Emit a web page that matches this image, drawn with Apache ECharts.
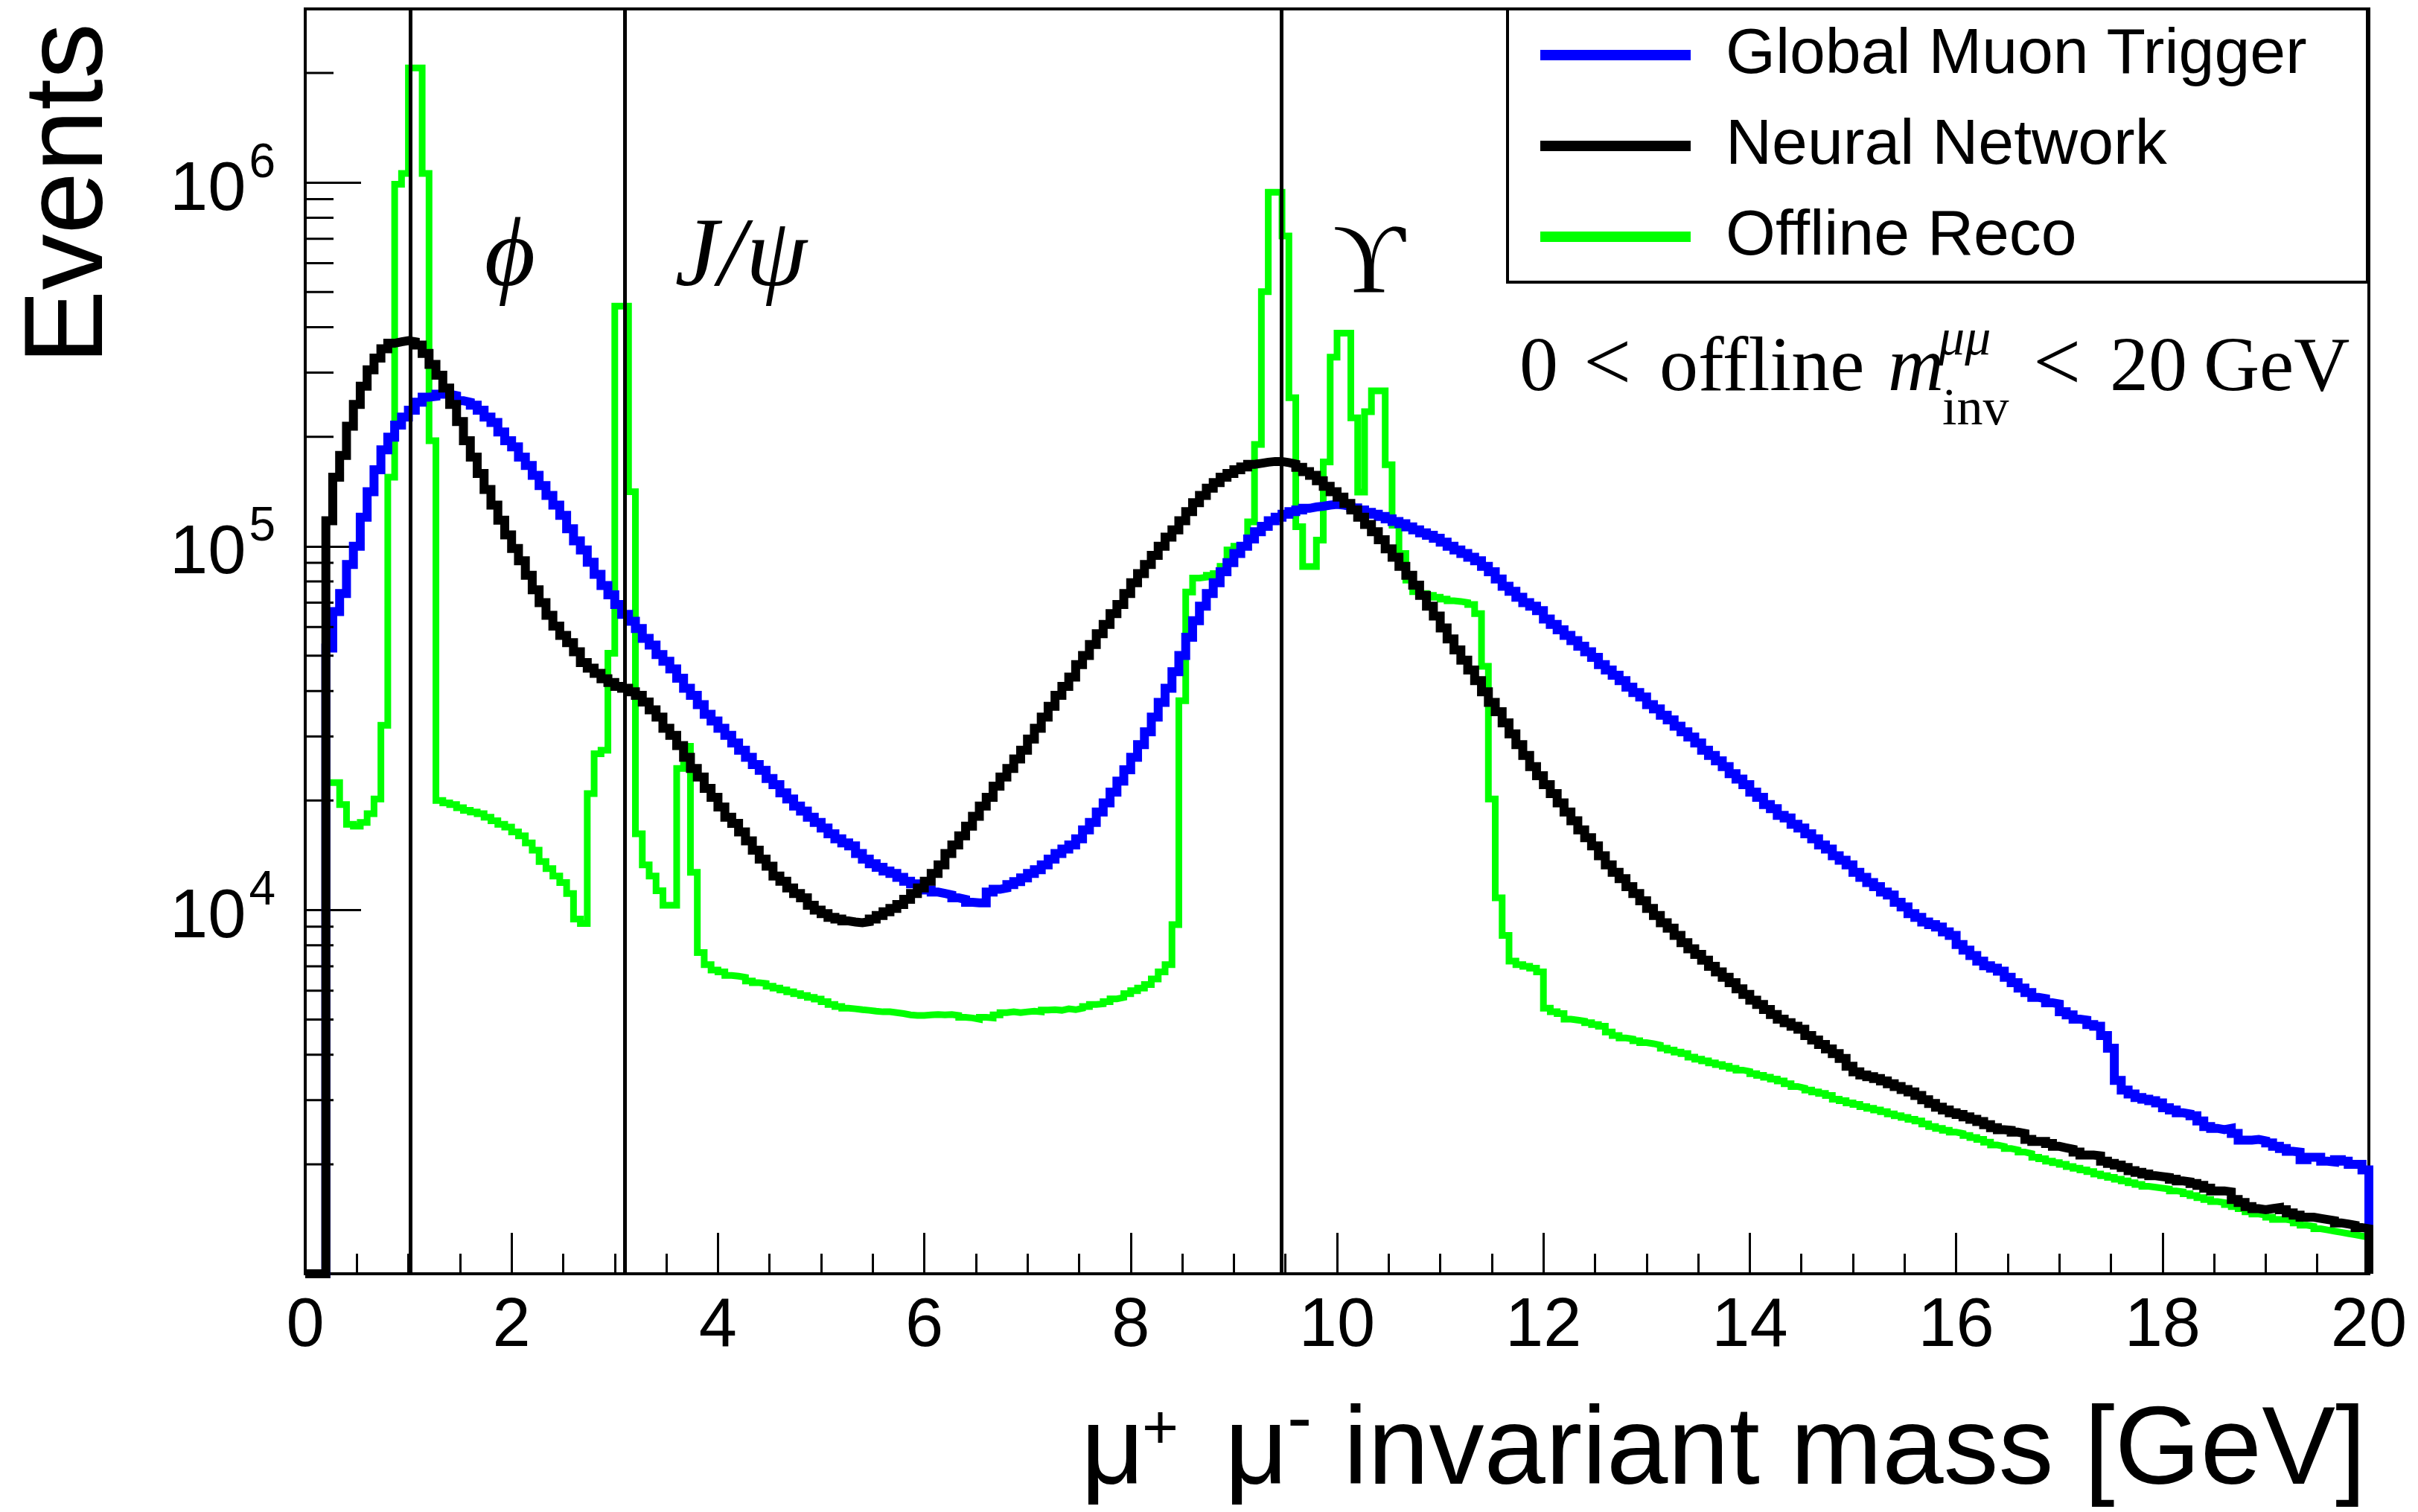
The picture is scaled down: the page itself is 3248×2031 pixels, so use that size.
<!DOCTYPE html>
<html>
<head>
<meta charset="utf-8">
<title>Dimuon invariant mass</title>
<script src="https://cdn.jsdelivr.net/npm/echarts@6/dist/echarts.min.js"></script>
<style>
  html, body { margin: 0; padding: 0; background: #fff; }
  #chart { width: 3248px; height: 2031px; }
</style>
</head>
<body>
<div id="chart"></div>
<script>
// histogram range, 300 bins of 1/15 GeV
const massMin = 0;
const massMax = 20;

const seriesNames = ['Global Muon Trigger', 'Neural Network', 'Offline Reco'];

// events per bin (one row = 1 GeV = 15 bins)
const gmtCounts = [
  0, 0, 0, 52500, 66100, 74100, 89100, 100000, 120200, 141300, 162200, 184100, 199500, 215300, 226500,
  236600, 248900, 257000, 258200, 261800, 261800, 259400, 251200, 248900, 244300, 236600, 226500, 218800, 206100, 195000,
  187500, 175800, 166700, 156700, 146900, 138000, 129700, 121600, 111700, 103500, 97700, 90400, 83750, 78000, 73500,
  69200, 65000, 62200, 59400, 55800, 53500, 50400, 48300, 46000, 43400, 40700, 38900, 36700, 34500, 33100,
  31600, 30200, 28800, 27500, 26300, 25100, 24200, 23000, 22100, 21000, 20200, 19300, 18700, 18000, 17400,
  16800, 16200, 15700, 15300, 15000, 14300, 13800, 13400, 13100, 12800, 12600, 12300, 12000, 11800, 11600,
  11350, 11200, 11100, 11000, 10800, 10700, 10500, 10470, 10470, 11200, 11400, 11500, 11750, 11970, 12250,
  12600, 12900, 13300, 13800, 14300, 14700, 15100, 15700, 16600, 17400, 18600, 19700, 21100, 22600, 24300,
  26300, 28500, 30900, 33900, 37200, 40700, 45200, 50100, 56200, 62400, 68400, 74100, 79400, 85100, 90200,
  95500, 100000, 104700, 109600, 113500, 117500, 120200, 122500, 124500, 125900, 127100, 128200, 128800, 129700, 130300,
  129700, 128800, 127400, 125900, 123900, 122500, 120800, 118900, 116900, 115300, 113000, 110900, 108900, 107200, 105200,
  102600, 100000, 97700, 95500, 93300, 91200, 88100, 85100, 81300, 77600, 75200, 72400, 70000, 68400, 66500,
  63100, 61000, 58900, 56900, 55000, 53100, 51300, 49500, 47300, 45700, 44200, 42700, 41000, 39600, 38500,
  36700, 35700, 34300, 33300, 32000, 30900, 29900, 28800, 27500, 26600, 25700, 24800, 23700, 22900, 22100,
  21100, 20400, 19500, 19000, 18200, 17900, 17200, 16800, 16200, 15700, 15100, 14700, 14100, 13700, 13300,
  12700, 12300, 11900, 11600, 11200, 11000, 10500, 10200, 9770, 9550, 9270, 9120, 8980, 8710, 8510,
  8040, 7760, 7500, 7240, 7030, 6920, 6790, 6530, 6310, 6100, 5930, 5750, 5710, 5560, 5520,
  5250, 5150, 5010, 4980, 4840, 4790, 4520, 4170, 3400, 3200, 3120, 3050, 3020, 2990, 2950,
  2860, 2820, 2770, 2750, 2720, 2630, 2540, 2510, 2490, 2510, 2430, 2330, 2330, 2340, 2320,
  2290, 2240, 2210, 2170, 2160, 2060, 2090, 2090, 2040, 2030, 2060, 2040, 2000, 2000, 1930
];

const nnCounts = [
  0, 0, 0, 117500, 154900, 177800, 213800, 245500, 275400, 305500, 328900, 349100, 361400, 364800, 367300,
  364800, 357300, 338800, 316200, 295100, 272300, 245500, 220300, 195000, 175800, 158500, 143200, 129700, 118000, 107400,
  98600, 91200, 83200, 75900, 70000, 64600, 60300, 56900, 54300, 51300, 47900, 46200, 44700, 43200, 42200,
  41200, 40700, 39800, 38900, 37300, 35500, 33900, 31600, 30200, 28300, 26300, 24500, 23200, 21600, 20400,
  19200, 18000, 17300, 16400, 15500, 14600, 13800, 13200, 12400, 12000, 11500, 11100, 10800, 10300, 10000,
  9770, 9550, 9440, 9330, 9270, 9230, 9290, 9440, 9660, 9890, 10100, 10350, 10700, 11100, 11500,
  12000, 12600, 13300, 14300, 15100, 16000, 17000, 18100, 19300, 20400, 21900, 23200, 24500, 26000, 27500,
  29500, 31600, 33900, 36300, 38900, 41200, 43700, 47300, 50100, 53700, 57500, 61000, 65300, 69200, 74100,
  79400, 84100, 89100, 94400, 100000, 105900, 110900, 117500, 124500, 131800, 138000, 144500, 149600, 154900, 158500,
  162200, 165200, 167900, 169000, 170200, 171000, 171000, 169800, 168300, 164800, 160300, 156700, 151400, 146200, 141300,
  136500, 131200, 125900, 120200, 114800, 109600, 104200, 98400, 93300, 88100, 83200, 78200, 73300, 68400, 64300,
  59600, 55600, 51900, 48600, 45700, 42700, 39800, 37200, 35100, 32700, 30500, 28500, 26600, 24800, 23400,
  22100, 20900, 19700, 18600, 17600, 16600, 15800, 15000, 14100, 13300, 12700, 12200, 11600, 11100, 10600,
  10100, 9660, 9230, 8910, 8510, 8130, 7820, 7550, 7280, 7000, 6760, 6530, 6310, 6070, 5860,
  5650, 5500, 5330, 5160, 5010, 4900, 4790, 4700, 4520, 4390, 4270, 4150, 4030, 3910, 3720,
  3590, 3520, 3480, 3440, 3390, 3330, 3270, 3210, 3160, 3090, 3010, 2940, 2870, 2820, 2770,
  2740, 2700, 2660, 2620, 2570, 2520, 2490, 2480, 2450, 2430, 2340, 2310, 2310, 2280, 2240,
  2220, 2200, 2160, 2120, 2120, 2110, 2040, 2010, 1990, 1960, 1920, 1900, 1880, 1860, 1850,
  1840, 1820, 1800, 1790, 1770, 1750, 1720, 1690, 1690, 1680, 1600, 1570, 1530, 1510, 1500,
  1510, 1520, 1500, 1470, 1450, 1430, 1430, 1420, 1410, 1400, 1380, 1370, 1360, 1340, 1330
];

const offlineCounts = [
  0, 0, 0, 22400, 22400, 19500, 17200, 17000, 17400, 18400, 20200, 32200, 154900, 988600, 1059000,
  2065000, 2065000, 1059000, 195000, 20000, 19700, 19500, 19100, 18800, 18600, 18400, 18000, 17600, 17200, 16900,
  16400, 16000, 15300, 14600, 13600, 13000, 12400, 11900, 11100, 9440, 9180, 20900, 26900, 27500, 50800,
  457100, 457100, 141300, 16200, 13300, 12400, 11300, 10300, 10300, 24500, 28200, 12700, 7640, 7080, 6840,
  6760, 6610, 6580, 6530, 6380, 6310, 6280, 6170, 6100, 6030, 5960, 5890, 5820, 5750, 5690,
  5600, 5500, 5430, 5370, 5350, 5320, 5300, 5270, 5250, 5250, 5220, 5190, 5150, 5130, 5130,
  5150, 5160, 5150, 5160, 5130, 5070, 5050, 5010, 5070, 5050, 5150, 5220, 5250, 5220, 5250,
  5270, 5250, 5310, 5320, 5300, 5350, 5320, 5370, 5430, 5500, 5520, 5600, 5700, 5750, 5890,
  6000, 6100, 6240, 6460, 6760, 7080, 9120, 37600, 74800, 81800, 82200, 83200, 84100, 88100, 97700,
  100000, 100000, 116700, 190500, 501200, 939700, 939700, 712800, 255900, 113200, 87900, 87900, 104000, 170600, 331100,
  385500, 385500, 225400, 140900, 234400, 267300, 267300, 167500, 114300, 95500, 80700, 75000, 74100, 73300, 72400,
  71600, 70800, 70500, 70000, 69200, 65300, 46800, 20200, 10800, 8510, 7240, 7080, 7000, 6920, 6760,
  5370, 5250, 5190, 5010, 4980, 4950, 4900, 4840, 4790, 4620, 4520, 4450, 4420, 4370, 4320,
  4290, 4250, 4170, 4120, 4070, 4030, 3940, 3890, 3850, 3800, 3760, 3720, 3670, 3630, 3600,
  3550, 3510, 3470, 3430, 3390, 3330, 3270, 3240, 3200, 3160, 3130, 3090, 3020, 2990, 2950,
  2920, 2880, 2850, 2820, 2790, 2750, 2720, 2690, 2660, 2630, 2580, 2540, 2510, 2480, 2450,
  2430, 2400, 2370, 2340, 2300, 2260, 2240, 2210, 2190, 2160, 2140, 2090, 2070, 2040, 2020,
  2000, 1970, 1950, 1930, 1910, 1880, 1860, 1840, 1820, 1800, 1780, 1760, 1740, 1730, 1720,
  1710, 1690, 1680, 1660, 1640, 1620, 1600, 1580, 1570, 1550, 1530, 1510, 1480, 1460, 1450,
  1430, 1410, 1410, 1400, 1380, 1360, 1350, 1330, 1320, 1310, 1300, 1290, 1280, 1270, 1260
];

// resonance masses marked with vertical lines [GeV]
const resonances = [
  { label: 'ϕ', mass: 1.019 },
  { label: 'J/ψ', mass: 3.097 },
  { label: 'ϒ', mass: 9.46 }
];

// decades that get a label on the y axis
const yLabelExponents = [4, 5, 6];

// minor ticks of the log axis
const yMinorTicks = [
  2000, 3000, 4000, 5000, 6000, 7000, 8000, 9000,
  20000, 30000, 40000, 50000, 60000, 70000, 80000, 90000,
  200000, 300000, 400000, 500000, 600000, 700000, 800000, 900000,
  2000000
];

const yMin = 1000;
const yMax = 3000000;

// empty bins sit on the lower frame edge, like ROOT draws them
function histPoints(counts) {
  const w = (massMax - massMin) / counts.length;
  const pts = [[massMin, yMin]];
  counts.forEach((c, i) => {
    pts.push([massMin + i * w, c > 0 ? c : yMin]);
  });
  const last = counts[counts.length - 1];
  pts.push([massMax, last > 0 ? last : yMin]);
  pts.push([massMax, yMin]);
  return pts;
}

function histSeries(name, counts, color, width, z) {
  return {
    name: name,
    type: 'line',
    step: 'end',
    data: histPoints(counts),
    showSymbol: false,
    symbol: 'none',
    color: color,
    z: z,
    silent: true,
    animation: false,
    lineStyle: { color: color, width: width, join: 'miter', cap: 'butt' },
    emphasis: { disabled: true }
  };
}

function text(x, y, str, size, extra) {
  return Object.assign({
    type: 'text',
    x: x,
    y: y,
    z: 10,
    silent: true,
    style: Object.assign({
      text: str,
      fontSize: size,
      fontFamily: 'Liberation Sans',
      fill: '#000',
      align: 'left',
      verticalAlign: 'middle'
    }, extra && extra.style)
  }, extra && extra.el);
}

function yLabel(v) {
  const e = Math.log10(v);
  const r = Math.round(e);
  if (Math.abs(e - r) > 1e-6 || yLabelExponents.indexOf(r) < 0) return '';
  return '{b|10}{s|' + r + '}';
}

const serif = 'Liberation Serif, DejaVu Serif';
const tickLine = { color: '#000', width: 3 };

const nnSeries = histSeries(seriesNames[1], nnCounts, '#000000', 12, 4);
nnSeries.markLine = {
  silent: true,
  animation: false,
  symbol: ['none', 'none'],
  label: { show: false },
  lineStyle: { color: '#000', width: 5, type: 'solid' },
  data: resonances.map(r => ({ xAxis: r.mass }))
};

const chart = echarts.init(document.getElementById('chart'));

const option = {
  animation: false,
  backgroundColor: '#ffffff',
  grid: {
    left: 410, right: 66, top: 12, bottom: 320,
    show: true, borderColor: '#000', borderWidth: 4
  },
  xAxis: {
    type: 'value',
    min: massMin,
    max: massMax,
    interval: 2,
    axisLine: { onZero: false, lineStyle: { color: '#000', width: 4 } },
    axisTick: { inside: true, length: 55, lineStyle: tickLine },
    minorTick: { show: true, splitNumber: 4, length: 27, lineStyle: tickLine },
    splitLine: { show: false },
    axisLabel: { margin: 26, color: '#000', fontSize: 92, fontFamily: 'Liberation Sans' }
  },
  yAxis: {
    type: 'log',
    logBase: 10,
    min: yMin,
    max: yMax,
    axisLine: { onZero: false, lineStyle: { color: '#000', width: 4 } },
    axisTick: { inside: true, length: 75, lineStyle: tickLine },
    splitLine: { show: false },
    axisLabel: {
      margin: 40,
      showMinLabel: false,
      showMaxLabel: false,
      formatter: yLabel,
      rich: {
        b: { fontSize: 92, fontFamily: 'Liberation Sans', color: '#000', padding: [22, 0, 0, 0], verticalAlign: 'bottom' },
        s: { fontSize: 64, fontFamily: 'Liberation Sans', color: '#000', padding: [0, 0, 0, 4], verticalAlign: 'top' }
      }
    }
  },
  legend: {
    data: seriesNames,
    orient: 'vertical',
    left: 2069,
    top: 31,
    padding: 0,
    itemWidth: 202,
    itemHeight: 14,
    itemGap: 36,
    icon: 'rect',
    selectedMode: false,
    z: 6,
    textStyle: {
      fontSize: 86,
      lineHeight: 86,
      fontFamily: 'Liberation Sans',
      color: '#000',
      padding: [0, 0, 0, 42]
    }
  },
  graphic: [
    // legend frame
    {
      type: 'rect', z: 1, silent: true,
      shape: { x: 2025, y: 12, width: 1155, height: 367 },
      style: { fill: '#fff', stroke: '#000', lineWidth: 4 }
    },
    // axis titles
    text(96, 31, 'Events', 150, { el: { rotation: Math.PI / 2 }, style: { align: 'right' } }),
    text(3178, 1952, 'invariant mass [GeV]', 148, { style: { align: 'right' } }),
    text(1452, 1952, 'μ', 148),
    text(1534, 1922, '+', 84),
    text(1645, 1952, 'μ', 148),
    text(1729, 1910, '-', 100),
    // resonance labels
    text(685, 348, resonances[0].label, 132, { style: { align: 'center', fontFamily: serif, fontStyle: 'italic' } }),
    text(995, 348, resonances[1].label, 132, { style: { align: 'center', fontFamily: serif, fontStyle: 'italic' } }),
    text(1839, 358, resonances[2].label, 134, { style: { align: 'center', fontFamily: serif } }),
    // selection note
    text(2041, 497, '0', 104, { style: { fontFamily: serif } }),
    text(2127, 494, '<', 114, { style: { fontFamily: serif } }),
    text(2229, 497, 'offline', 104, { style: { fontFamily: serif } }),
    text(2536, 497, 'm', 104, { style: { fontFamily: serif, fontStyle: 'italic' } }),
    text(2604, 458, 'μμ', 70, { style: { fontFamily: serif, fontStyle: 'italic' } }),
    text(2609, 552, 'inv', 70, { style: { fontFamily: serif } }),
    text(2731, 494, '<', 114, { style: { fontFamily: serif } }),
    text(2834, 497, '20', 104, { style: { fontFamily: serif } }),
    text(2960, 497, 'GeV', 104, { style: { fontFamily: serif } })
  ],
  series: [
    histSeries(seriesNames[2], offlineCounts, '#00ff00', 9, 2),
    histSeries(seriesNames[0], gmtCounts, '#0000ff', 12, 3),
    nnSeries,
    {
      type: 'custom',
      silent: true,
      animation: false,
      z: 6,
      data: yMinorTicks.map(v => [massMin, v]),
      renderItem: function (params, api) {
        const p = api.coord([api.value(0), api.value(1)]);
        return {
          type: 'line',
          shape: { x1: p[0], y1: p[1], x2: p[0] + 38, y2: p[1] },
          style: { stroke: '#000', lineWidth: 3 }
        };
      }
    }
  ]
};

chart.setOption(option);
</script>
</body>
</html>
